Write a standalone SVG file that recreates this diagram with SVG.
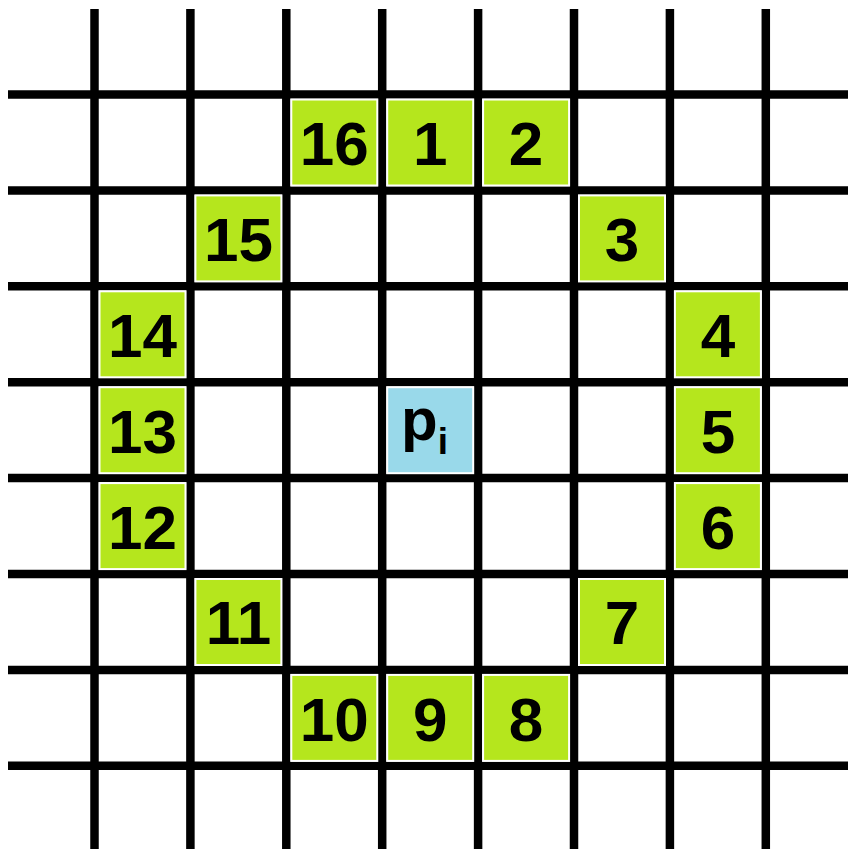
<svg xmlns="http://www.w3.org/2000/svg" width="848" height="849" viewBox="0 0 848 849">
<style>
.ln{stroke:#000;stroke-width:8.5;fill:none}
.g{fill:#B5E61D;stroke:#fff;stroke-width:2}
.b{fill:#99D9EA;stroke:#fff;stroke-width:2}
.t{font-family:"Liberation Sans",Arial,sans-serif;font-weight:bold;font-size:62px;fill:#000;text-anchor:middle}
.p{font-family:"Liberation Sans",Arial,sans-serif;font-weight:bold;font-size:60px;fill:#000}
</style>
<rect width="848" height="849" fill="#fff"/>
<g id="grid">
<line class="ln" x1="94.5" y1="9" x2="94.5" y2="849"/>
<line class="ln" x1="190.4" y1="9" x2="190.4" y2="849"/>
<line class="ln" x1="286.3" y1="9" x2="286.3" y2="849"/>
<line class="ln" x1="382.2" y1="9" x2="382.2" y2="849"/>
<line class="ln" x1="478.1" y1="9" x2="478.1" y2="849"/>
<line class="ln" x1="574" y1="9" x2="574" y2="849"/>
<line class="ln" x1="669.9" y1="9" x2="669.9" y2="849"/>
<line class="ln" x1="765.8" y1="9" x2="765.8" y2="849"/>
<line class="ln" x1="8" y1="94.5" x2="848" y2="94.5"/>
<line class="ln" x1="8" y1="190.4" x2="848" y2="190.4"/>
<line class="ln" x1="8" y1="286.3" x2="848" y2="286.3"/>
<line class="ln" x1="8" y1="382.2" x2="848" y2="382.2"/>
<line class="ln" x1="8" y1="478.1" x2="848" y2="478.1"/>
<line class="ln" x1="8" y1="574" x2="848" y2="574"/>
<line class="ln" x1="8" y1="669.9" x2="848" y2="669.9"/>
<line class="ln" x1="8" y1="765.8" x2="848" y2="765.8"/>
</g>
<g id="c1"><rect class="g" x="387.2" y="99.5" width="86" height="86"/><text class="t" x="430.2" y="165">1</text></g>
<g id="c2"><rect class="g" x="483.1" y="99.5" width="86" height="86"/><text class="t" x="526.1" y="165">2</text></g>
<g id="c3"><rect class="g" x="579" y="195.4" width="86" height="86"/><text class="t" x="622" y="261">3</text></g>
<g id="c4"><rect class="g" x="674.9" y="291.3" width="86" height="86"/><text class="t" x="717.9" y="357">4</text></g>
<g id="c5"><rect class="g" x="674.9" y="387.2" width="86" height="86"/><text class="t" x="717.9" y="453">5</text></g>
<g id="c6"><rect class="g" x="674.9" y="483.1" width="86" height="86"/><text class="t" x="717.9" y="548.5">6</text></g>
<g id="c7"><rect class="g" x="579" y="579" width="86" height="86"/><text class="t" x="622" y="644">7</text></g>
<g id="c8"><rect class="g" x="483.1" y="674.9" width="86" height="86"/><text class="t" x="526.1" y="740.5">8</text></g>
<g id="c9"><rect class="g" x="387.2" y="674.9" width="86" height="86"/><text class="t" x="430.2" y="740.5">9</text></g>
<g id="c10"><rect class="g" x="291.3" y="674.9" width="86" height="86"/><text class="t" x="334.3" y="740.5">10</text></g>
<g id="c11"><rect class="g" x="195.4" y="579" width="86" height="86"/><text class="t" x="238.4" y="644">11</text></g>
<g id="c12"><rect class="g" x="99.5" y="483.1" width="86" height="86"/><text class="t" x="142.5" y="548.5">12</text></g>
<g id="c13"><rect class="g" x="99.5" y="387.2" width="86" height="86"/><text class="t" x="142.5" y="453">13</text></g>
<g id="c14"><rect class="g" x="99.5" y="291.3" width="86" height="86"/><text class="t" x="142.5" y="357">14</text></g>
<g id="c15"><rect class="g" x="195.4" y="195.4" width="86" height="86"/><text class="t" x="238.4" y="261">15</text></g>
<g id="c16"><rect class="g" x="291.3" y="99.5" width="86" height="86"/><text class="t" x="334.3" y="165">16</text></g>
<g id="pi"><rect class="b" x="387.2" y="387.2" width="86" height="86"/><text class="p" x="401" y="440">p<tspan font-size="37" dy="14">i</tspan></text></g>
</svg>
